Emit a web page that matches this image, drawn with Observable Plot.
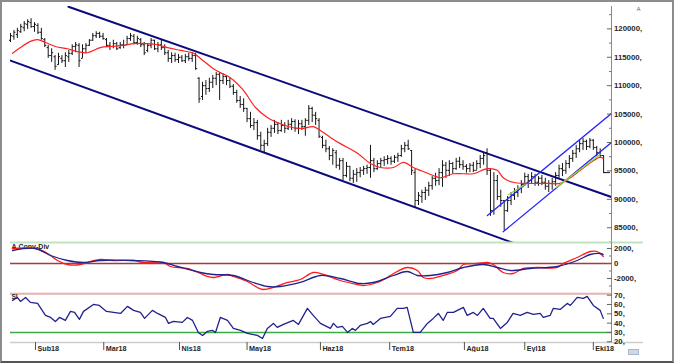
<!DOCTYPE html>
<html>
<head>
<meta charset="utf-8">
<script src="https://cdn.jsdelivr.net/npm/d3@7"></script>
<script src="https://cdn.jsdelivr.net/npm/@observablehq/plot@0.6"></script>
<style>
  html, body { margin: 0; padding: 0; background: #fff; }
  #wrap { position: relative; width: 674px; height: 364px; overflow: hidden; background: #fff; }
  #wrap svg { position: absolute; left: 0; }
  .frame { position: absolute; left: 0; top: 0; width: 674px; height: 363px; box-sizing: border-box;
           border: 2px solid #8c8c8c; border-bottom: 2px solid #555; pointer-events: none; }
  .icon { position: absolute; left: 628px; top: 349px; width: 9px; height: 4px; background: #cfd8e8; border: 1px solid #a9b6cc; }
</style>
</head>
<body>
<div id="wrap"></div>
<script>
// ---------- DATA (prices in thousands) ----------
const highs = [
119.2,119.7,120.1,120.8,121.3,121.6,121.8,121.1,120.9,120.1,
118.3,117.1,116.5,115.3,115.7,115.3,115.8,116.2,117.2,117.6,
117.4,117.2,117.4,118.1,119.2,119.5,119.4,119.2,118.3,117.6,
118.0,117.6,117.6,118.0,118.7,119.2,119.0,118.7,118.3,117.6,
117.4,118.3,118.0,117.6,118.0,117.2,116.2,115.8,115.7,115.5,
115.3,115.5,115.7,115.8,115.7,111.4,110.6,110.9,111.3,111.8,
112.3,112.3,112.1,111.6,111.3,110.2,109.2,108.1,107.7,106.0,
105.3,104.2,103.9,101.8,100.4,102.5,103.0,103.9,103.5,103.9,
103.5,103.9,104.2,104.0,103.9,103.9,104.2,106.5,106.2,105.3,
104.2,101.1,100.4,99.3,98.9,98.6,97.2,97.2,96.5,95.8,
95.1,95.4,95.6,95.8,96.0,99.5,97.2,96.8,97.2,97.5,
97.7,97.5,97.7,98.1,99.5,100.0,100.4,98.6,95.4,91.2,
91.6,92.1,93.0,94.0,94.6,95.4,96.8,96.5,96.8,96.5,
97.2,97.4,96.8,96.1,96.3,96.5,96.8,97.7,98.2,98.9,
95.4,94.7,94.2,91.6,89.8,90.5,91.2,91.9,92.4,93.3,
94.6,94.4,94.7,94.4,94.0,94.2,93.7,93.3,93.7,94.7,
96.0,96.3,96.8,97.7,98.6,99.5,100.4,100.7,100.4,100.7,
100.5,99.3,98.9,97.7];
const lows = [
117.6,118.0,118.3,119.2,119.5,119.9,120.1,119.4,119.0,118.0,
116.7,114.8,114.1,112.7,113.6,113.9,113.2,114.1,115.3,115.8,
113.2,114.8,115.7,116.9,117.8,118.3,118.3,118.0,116.7,116.2,
116.5,116.2,116.4,116.5,117.2,117.8,117.2,117.1,116.7,115.3,
115.8,116.5,116.2,115.8,116.2,115.3,114.1,113.9,114.1,113.9,
114.1,113.9,114.3,114.1,112.7,106.9,107.4,108.3,108.8,109.5,
110.0,107.4,110.2,110.0,109.5,108.3,106.9,106.0,105.3,103.5,
102.5,102.1,100.4,98.6,98.1,99.3,100.9,101.6,101.4,101.8,
101.6,102.1,102.1,101.8,101.4,102.1,101.1,103.0,103.5,103.0,
100.7,98.9,98.2,96.8,96.0,95.4,95.1,93.3,93.8,93.1,
92.8,93.0,93.8,94.2,94.4,93.7,94.7,95.1,95.4,95.8,
96.1,96.0,96.3,96.5,97.4,98.2,98.6,94.2,88.4,88.9,
89.3,89.8,90.5,91.6,92.3,92.4,92.1,93.7,94.0,94.4,
95.1,95.4,95.1,94.6,94.7,94.7,95.1,95.4,96.0,94.2,
87.0,87.2,89.8,88.6,84.5,87.7,88.9,89.8,90.3,91.0,
92.3,91.9,92.6,92.3,92.3,92.4,91.6,91.2,91.6,92.3,
93.7,94.0,94.4,95.4,96.5,97.2,98.2,98.6,98.6,98.9,
98.6,97.5,97.2,94.7];
const opens = [
118.0,118.7,119.0,119.5,120.2,120.8,121.1,120.4,120.6,119.4,
118.1,116.7,115.3,115.1,113.7,114.8,114.4,115.1,115.7,116.9,
117.1,114.8,116.5,117.1,118.0,118.8,119.2,118.7,118.1,117.1,
116.9,117.4,116.7,117.2,117.2,118.3,118.7,117.6,118.1,117.2,
116.2,117.1,118.0,116.5,117.2,116.7,115.8,114.8,115.3,114.6,
115.0,114.4,115.1,114.8,115.3,111.3,108.1,110.0,109.5,110.6,
111.3,112.0,110.9,111.6,110.9,109.9,108.8,107.4,106.7,106.0,
104.2,103.0,103.5,101.2,99.5,99.8,101.8,102.5,103.2,102.1,
103.0,102.5,103.2,103.7,102.5,103.3,102.8,103.9,106.0,104.8,
103.9,100.9,99.5,98.9,97.7,98.2,96.0,96.8,94.2,95.8,
93.7,94.4,94.7,95.1,95.4,95.6,96.8,95.4,96.3,96.8,
97.0,97.2,96.7,97.4,97.7,98.9,99.5,98.6,94.7,89.8,
90.5,91.2,91.6,92.4,93.7,93.3,94.7,96.0,95.1,96.3,
95.4,96.7,96.1,95.8,95.4,96.0,95.1,96.3,97.2,98.2,
95.1,88.0,93.3,90.5,89.8,88.0,89.8,90.7,91.2,91.9,
92.6,94.0,93.3,94.0,93.0,93.7,93.0,92.3,92.8,93.1,
94.2,95.4,95.1,96.3,97.2,98.1,98.9,99.8,100.2,99.3,
100.4,99.1,98.2,97.7];
const closes = [
118.8,119.4,119.7,120.4,120.9,121.3,120.4,120.8,119.4,118.3,
117.1,115.3,115.8,113.4,115.1,114.4,115.3,115.7,116.9,117.2,
114.4,116.5,117.1,118.0,118.8,119.2,118.7,118.3,117.1,116.9,
117.4,116.5,117.2,117.1,118.3,118.8,117.6,118.3,117.2,115.8,
117.1,118.0,116.5,117.2,116.7,115.8,114.8,115.3,114.6,115.0,
114.4,115.1,114.8,115.3,113.0,107.7,110.0,109.5,110.6,111.3,
112.0,110.9,111.6,110.9,109.9,108.8,107.4,106.7,106.0,104.2,
103.0,103.5,101.2,99.5,99.8,101.8,102.5,103.2,102.1,103.0,
102.5,103.2,103.7,102.5,103.3,102.8,103.9,106.0,104.8,104.2,
101.1,99.5,98.9,97.7,98.6,96.0,96.8,94.2,95.8,93.7,
94.4,94.7,95.1,95.4,95.6,96.8,95.4,96.3,96.8,97.0,
97.2,96.7,97.4,97.7,98.9,99.5,98.9,95.1,89.8,90.7,
91.2,91.6,92.4,93.7,93.3,94.7,96.0,95.1,96.3,95.4,
96.7,96.1,95.8,95.4,96.0,95.1,96.3,97.2,97.7,95.1,
88.0,93.3,90.5,89.8,88.0,89.8,90.7,91.2,91.9,92.6,
94.0,93.3,94.0,93.0,93.7,93.0,92.3,92.8,93.1,94.2,
95.4,95.1,96.3,97.2,98.1,98.9,99.8,100.2,99.3,100.4,
99.1,98.2,97.7,94.7];

// moving average (red): trading-day index / value (thousands)
const maIdx = [0.6,2.9,5.8,7.9,10.2,13.1,16.6,19.5,22.4,26.2,29.2,32.9,35.9,39.9,42.9,45.8,49.6,53.4,55.4,59.2,61.2,64.1,67.9,71.4,74.9,78.7,82.5,85.4,88.3,90.4,93.3,96.2,101.2,105,107.9,111.7,114.6,117.5,119.5,123.3,125.4,129.2,132.1,135,139.1,142,143.7,146.6,150.7,156.6,160.3,163.3,166.2,170,172,172.9];
const maVal = [115.7,116.7,117.8,118.1,117.6,116.9,116.5,116.0,115.8,116.7,116.9,117.1,117.4,117.4,117.2,116.7,116.2,115.7,114.8,113.0,112.3,111.4,109.2,106.2,104.4,103.3,102.6,102.5,102.8,102.1,100.9,99.8,98.1,96.3,95.6,95.6,96.5,95.6,95.1,94.2,93.8,94.5,94.5,94.5,95.4,95.1,93.8,93.0,92.8,92.8,92.8,93.8,95.1,96.8,97.4,97.2];

// trend lines: [index, value(thousands)]
const navyUpper = [[16.9, 123.9], [175.3, 90.4]];
const navyLower = [[0, 114.4], [150, 81.6]];
const blueUpper = [[139.1, 87.15], [175.3, 105.1]];
const blueLower = [[143.7, 84.3], [175.3, 100.0]];
const greenA = [[145.2, 90.8], [150.1, 92.6]];
const greenB = [[159.2, 92.1], [172, 97.9]];

// MACD (A.Conv-Div)
const macdIdx = [0.6,7.3,10.8,13.7,16.6,20.4,22.4,26.2,30,35.9,38.8,44.6,46.6,51.6,55.4,57.4,59.2,63.3,65,69.1,72,73.8,76.7,80.8,84.5,88.3,91.3,96.2,101.2,102.9,107,109.9,112.8,115.7,118.7,120.4,122.4,126.2,130.3,132.1,136.2,139.1,140.8,143.7,146.6,149.6,153.6,159.5,161.2,165.3,169.1,171.1,172.9];
const macdVal = [2000,2000,1333,400,-133,-133,133,533,400,400,133,133,-400,-667,-1333,-1733,-1867,-1467,-1733,-2400,-3200,-3467,-3200,-2533,-2133,-1200,-1467,-2267,-2800,-2933,-2533,-1867,-1067,-533,-933,-1867,-2000,-1600,-933,-133,0,133,-133,-1200,-1333,-667,-533,-533,0,800,1600,1600,933];
const sigIdx = [0.6,7.3,11.7,16.6,21.3,26.2,35.9,44.6,48.7,55.4,59.2,65,70.8,74.9,78.7,84.5,90.4,96.2,102,105.8,111.7,115.7,118.7,122.4,127.4,132.1,137.9,142,145.8,151.6,159.5,165.3,169.1,172,172.9];
const sigVal = [1733,2000,1067,400,133,400,400,133,-400,-1200,-1467,-1600,-2533,-3067,-3067,-2533,-1600,-2000,-2667,-2533,-1600,-1067,-1600,-1600,-1200,-533,-133,-533,-933,-667,-400,400,1200,1333,1200];

// RSI
const rsiIdx = [0.6,2,2.9,4.4,5.8,7.9,10.2,11.7,13.1,14.3,16,17.5,18.7,20.1,21.3,24.2,25.9,28,32.1,34.1,35.9,37.9,39.1,41.4,42.9,45.2,46.1,47.5,50.1,51.6,53.1,54.8,56,57.4,58.9,59.8,61.2,63.3,65,67.1,69.1,72,73.5,74.9,76.7,77.8,79.6,82.5,84,86.6,88.3,90.4,93.3,94.2,95.3,96.8,98.3,99.7,100.6,102,104.1,105,105.8,107.9,110.8,112.8,114.6,115.7,117.5,119.5,121.6,123.3,124.8,126.2,127.4,129.2,132.1,133.2,135,136.2,137.9,139.9,140.8,142.9,144.9,146.6,148.7,150.7,152.5,154.5,155.4,157.4,158.3,160.3,162.4,163.3,165.3,167.1,168.2,170,172,172.9];
const rsiVal = [64.4,67.6,63.3,67.6,62.3,61.2,48.3,46.1,41.8,46.1,42.9,52.6,51.5,44,52.6,60.1,59,52.6,50.4,58,53.7,51.5,45.1,53.7,50.4,46.1,39.7,41.8,40.8,46.1,42.9,30,26.8,31.1,32.2,30,46.1,42.9,34.3,32.2,28.9,26.8,23.5,34.3,39.7,35.4,38.6,42.9,38.6,55.8,48.3,39.7,34.3,39.7,35.4,36.5,30,34.3,32.2,37.5,39.7,41.8,38.6,45.1,47.2,55.8,55.8,56.9,30,30,39.7,45.1,50.4,42.9,51.5,51.5,56.9,48.3,51.5,48.3,55.8,45.1,45.1,34.3,40.8,50.4,48.3,51.5,49.4,50.4,46.1,48.3,55.8,54.7,61.2,59,67.6,66.6,68.7,59,53.7,45.1];

// axis ticks / labels
const monthIdx = [7.3, 27.2, 49.3, 69, 90.4, 110.6, 132.4, 150, 170];
const monthLabels = ["Şub18","Mar18","Nis18","May18","Haz18","Tem18","Ağu18","Eyl18","Eki18"];
const priceMajor = [85000, 90000, 95000, 100000, 105000, 110000, 115000, 120000];
const priceMinor = [82500, 87500, 92500, 97500, 102500, 107500, 112500, 117500, 122500];
const macdTicks = [2000, 0, -2000];
const macdMinor = [1000, -1000, -3000];
const rsiTicks = [20, 30, 40, 50, 60, 70];

// ---------- BUILD ----------
const K = 1000;
const X_MAX = 175.3;      // index at the right axis
const AX_EXT = 9.3;       // separator lines run past the axis
const FONT = '"Liberation Sans", Arial, sans-serif';
const TXT = "#262626";

const bars = closes.map((c, i) => ({i, o: opens[i]*K, h: highs[i]*K, l: lows[i]*K, c: c*K}));
const last = bars[bars.length - 1];
const ma = maIdx.map((x, j) => ({x, y: maVal[j]*K}));
const seg = a => a.map(([x, y]) => ({x, y: y*K}));
const macd = macdIdx.map((x, j) => ({x, y: macdVal[j]}));
const sig = sigIdx.map((x, j) => ({x, y: sigVal[j]}));
const rsi = rsiIdx.map((x, j) => ({x, y: rsiVal[j]}));

const common = {
  width: 674, marginLeft: 10, marginRight: 63,
  x: {domain: [0, X_MAX], axis: null},
  style: {background: "transparent", overflow: "visible", fontFamily: FONT, color: "#666"}
};

const pricePlot = Plot.plot({
  ...common,
  height: 242, marginTop: 6, marginBottom: 0,
  y: {domain: [82400, 123936], axis: null},
  marks: [
    Plot.line(seg(navyUpper), {x: "x", y: "y", stroke: "#0b0b7e", strokeWidth: 2, clip: true}),
    Plot.line(seg(navyLower), {x: "x", y: "y", stroke: "#0b0b7e", strokeWidth: 2, clip: true}),
    Plot.ruleX(bars, {x: "i", y1: "l", y2: "h", stroke: "#161616", strokeWidth: 1}),
    Plot.link(bars, {x1: d => d.i - 0.45, x2: "i", y1: "o", y2: "o", stroke: "#161616", strokeWidth: 1}),
    Plot.link(bars, {x1: "i", x2: d => d.i + 0.45, y1: "c", y2: "c", stroke: "#161616", strokeWidth: 1}),
    Plot.ruleY([last], {y: "c", x1: "i", x2: X_MAX - 0.3, stroke: "#161616", strokeWidth: 1}),
    Plot.line(seg(blueUpper), {x: "x", y: "y", stroke: "#2424ff", strokeWidth: 1.3, clip: true}),
    Plot.line(seg(blueLower), {x: "x", y: "y", stroke: "#2424ff", strokeWidth: 1.3, clip: true}),
    Plot.line(ma, {x: "x", y: "y", stroke: "#ff2020", strokeWidth: 1.2, curve: "catmull-rom"}),
    Plot.line(seg(greenA), {x: "x", y: "y", stroke: "#8fd13a", strokeWidth: 1.3}),
    Plot.line(seg(greenB), {x: "x", y: "y", stroke: "#8fd13a", strokeWidth: 1.3}),
    Plot.ruleX([X_MAX], {stroke: "#8a8a8a", strokeWidth: 1}),
    Plot.ruleY(priceMinor, {x1: X_MAX - 0.6, x2: X_MAX, stroke: "#777"}),
    Plot.ruleY(priceMajor, {x1: X_MAX - 1.2, x2: X_MAX + 0.3, stroke: "#666"}),
    Plot.text(priceMajor, {frameAnchor: "right", y: d => d, dx: 2.5, textAnchor: "start",
      text: d => d + ",", fontSize: 7.8, fontWeight: "bold", fill: TXT}),
    Plot.text(["A"], {frameAnchor: "top-right", dx: 29, dy: 1, text: d => d, fontSize: 5.5, fill: "#555"})
  ]
});

const macdPlot = Plot.plot({
  ...common,
  height: 70, marginTop: 10, marginBottom: 10,
  y: {domain: [-3867, 2800], axis: null},
  marks: [
    Plot.ruleY([2800], {x1: 0, x2: X_MAX + AX_EXT, stroke: "#bfe4bf", strokeWidth: 2}),
    Plot.ruleY([0], {stroke: "#a83a3a", strokeWidth: 1.3}),
    Plot.text(["A.Conv-Div"], {frameAnchor: "top-left", dx: 1, dy: 2, lineAnchor: "top", textAnchor: "start",
      text: d => d, fontSize: 7, fontWeight: "bold", fill: TXT}),
    Plot.line(macd, {x: "x", y: "y", stroke: "#ff1c1c", strokeWidth: 1.3, curve: "catmull-rom"}),
    Plot.line(sig, {x: "x", y: "y", stroke: "#20208e", strokeWidth: 1.3, curve: "catmull-rom"}),
    Plot.ruleX([X_MAX], {stroke: "#8a8a8a"}),
    Plot.ruleY(macdMinor, {x1: X_MAX - 0.6, x2: X_MAX, stroke: "#777"}),
    Plot.ruleY(macdTicks, {x1: X_MAX - 1.2, x2: X_MAX + 0.3, stroke: "#666"}),
    Plot.text(macdTicks, {frameAnchor: "right", y: d => d, dx: 2.5, textAnchor: "start",
      text: d => d === 0 ? "0" : d + ",", fontSize: 7.8, fontWeight: "bold", fill: TXT})
  ]
});

const rsiPlot = Plot.plot({
  ...common,
  style: {...common.style, overflow: "hidden"},
  height: 60, marginTop: 0, marginBottom: 10,
  y: {domain: [19.2, 72.9], axis: null},
  marks: [
    Plot.ruleY([71.5], {stroke: "#e5b1b1", strokeWidth: 2}),
    Plot.ruleY([30], {stroke: "#3daa47", strokeWidth: 1.5}),
    Plot.ruleY([19.2], {x1: 0, x2: X_MAX + AX_EXT, stroke: "#cdcdcd", strokeWidth: 1.5}),
    Plot.text(["SI"], {frameAnchor: "top-left", dx: 1, dy: 2, lineAnchor: "top", textAnchor: "start",
      text: d => d, fontSize: 6.5, fontWeight: "bold", fill: TXT}),
    Plot.line(rsi, {x: "x", y: "y", stroke: "#22228c", strokeWidth: 1.3}),
    Plot.ruleX([X_MAX], {stroke: "#8a8a8a"}),
    Plot.ruleY(rsiTicks, {x1: X_MAX - 1.2, x2: X_MAX + 0.3, stroke: "#666"}),
    Plot.text(rsiTicks, {frameAnchor: "right", y: d => d, dx: 2.5, textAnchor: "start",
      text: d => d + ",", fontSize: 7.8, fontWeight: "bold", fill: TXT}),
    Plot.axisX(monthIdx, {anchor: "bottom", tickSize: 8, tickPadding: 0, tickFormat: () => "", label: null, stroke: "#555"}),
    Plot.text(monthIdx, {x: d => d, frameAnchor: "bottom", dx: 2, dy: 8.6, textAnchor: "start",
      text: (d, i) => monthLabels[i], fontSize: 7.2, fontWeight: "bold", fill: TXT})
  ]
});

const wrap = document.getElementById("wrap");
[[pricePlot, 0], [macdPlot, 232], [rsiPlot, 292]].forEach(([el, top]) => {
  el.style.position = "absolute";
  el.style.left = "0px";
  el.style.top = top + "px";
  wrap.appendChild(el);
});
const icon = document.createElement("div"); icon.className = "icon"; wrap.appendChild(icon);
const frame = document.createElement("div"); frame.className = "frame"; wrap.appendChild(frame);
</script>
</body>
</html>
